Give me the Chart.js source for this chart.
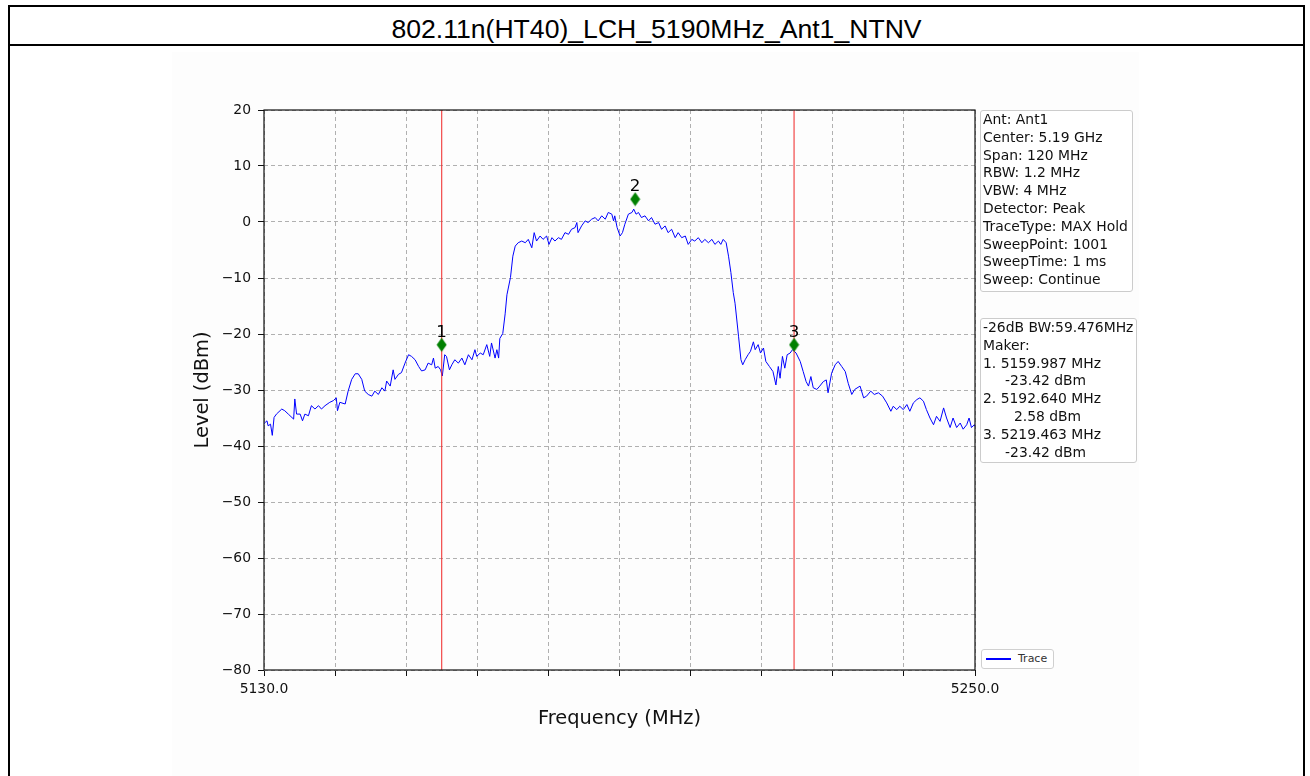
<!DOCTYPE html>
<html>
<head>
<meta charset="utf-8">
<script src="https://cdn.jsdelivr.net/npm/chart.js@4.4.1/dist/chart.umd.min.js"></script>
<style>
  body { margin: 0; background: #fff; font-family: "DejaVu Sans", sans-serif; }
  #frame { position: absolute; left: 8px; top: 5px; width: 1293px; height: 800px; border: 2px solid #000; border-bottom: none; }
  #sep { position: absolute; left: 8px; top: 44px; width: 1297px; height: 2px; background: #000; }
  #title { position: absolute; left: 10px; top: 9px; width: 1293px; height: 35px; line-height: 40px; text-align: center;
           font-family: "Liberation Sans", Arial, sans-serif; font-size: 26.6px; color: #000; }
  #fig { position: absolute; left: 172px; top: 52px; width: 967px; height: 724px; background: #fdfdfd; }
  .box { position: absolute; background: #fff; border: 1px solid #cccccc; border-radius: 3px; color: #111;
         font-size: 13.9px; line-height: 17.8px; padding: 0 0 0 2px; white-space: pre; box-sizing: border-box; }
  #legend { position: absolute; left: 981px; top: 649px; width: 73px; height: 20px; background: #fff;
            border: 1px solid #d0d0d0; border-radius: 3px; box-sizing: border-box; font-size: 11px; color: #333; }
  #legend .swatch { position: absolute; left: 4px; top: 8px; width: 25px; height: 1.5px; background: #0000ff; }
  #legend .lbl { position: absolute; left: 36px; top: 2px; line-height: 14px; }
</style>
</head>
<body>
<div id="frame"></div>
<div id="sep"></div>
<div id="title">802.11n(HT40)_LCH_5190MHz_Ant1_NTNV</div>
<div id="fig"><canvas id="spectrum" width="967" height="724"></canvas></div>
<div class="box" id="setup" style="left:980px; top:110px; width:153px; height:182px;"></div>
<div class="box" id="markers" style="left:980px; top:318px; width:157px; height:145px;"></div>
<div id="legend"><div class="swatch"></div><div class="lbl">Trace</div></div>

<script>
// analyzer settings
const startFreq = 5130.0;
const stopFreq = 5250.0;
const refLevel = 20;
const bottomLevel = -80;
const setupLines = ['Ant: Ant1', 'Center: 5.19 GHz', 'Span: 120 MHz', 'RBW: 1.2 MHz', 'VBW: 4 MHz',
  'Detector: Peak', 'TraceType: MAX Hold', 'SweepPoint: 1001', 'SweepTime: 1 ms', 'Sweep: Continue'];
const bwText = '-26dB BW:59.476MHz';

// markers (MHz, dBm); 1 and 3 are the -26dB edges
const markerNames = ['1', '2', '3'];
const markerFreq = [5159.987, 5192.640, 5219.463];
const markerLevel = [-23.42, 2.58, -23.42];
const markerLift = 1.5; // diamonds sit a little above the reading
const edgeFreq = [5159.987, 5219.463];

// trace (MHz, dBm)
const traceFreq = [
  5130.0, 5130.2, 5130.5, 5130.7, 5131.1, 5131.4, 5131.7, 5132.1, 5133.0, 5133.5,
  5134.1, 5135.0, 5135.2, 5135.5, 5136.1, 5136.5, 5136.9, 5137.5, 5138.0, 5138.6,
  5139.2, 5139.7, 5140.3, 5141.1, 5141.7, 5142.2, 5142.4, 5142.8, 5143.7, 5144.2,
  5144.8, 5145.4, 5145.9, 5146.5, 5147.0, 5147.6, 5148.2, 5148.7, 5149.3, 5149.9,
  5150.4, 5150.7, 5151.3, 5151.8, 5152.1, 5152.7, 5153.2, 5153.8, 5154.4, 5154.9,
  5155.5, 5156.1, 5156.6, 5157.2, 5157.7, 5158.3, 5158.6, 5158.9, 5159.4, 5159.8,
  5160.1, 5160.5, 5160.8, 5161.3, 5161.7, 5162.2, 5162.8, 5163.4, 5163.9, 5164.5,
  5165.1, 5165.6, 5165.9, 5166.5, 5167.0, 5167.6, 5168.1, 5168.4, 5169.0, 5169.3,
  5169.6, 5169.8, 5170.3, 5170.7, 5171.0, 5171.6, 5172.0, 5172.4, 5172.9, 5173.5,
  5174.1, 5174.6, 5175.2, 5175.6, 5176.0, 5176.6, 5177.1, 5177.7, 5178.1, 5178.6,
  5179.1, 5179.7, 5180.2, 5180.8, 5181.4, 5181.9, 5182.5, 5182.8, 5183.0, 5183.6,
  5184.2, 5184.7, 5185.3, 5185.9, 5186.4, 5187.0, 5187.6, 5188.1, 5188.7, 5189.0,
  5189.2, 5189.6, 5190.1, 5190.5, 5190.9, 5191.5, 5192.1, 5192.4, 5192.8, 5193.2,
  5193.7, 5194.3, 5194.9, 5195.4, 5196.0, 5196.6, 5197.1, 5197.7, 5198.2, 5198.8,
  5199.4, 5199.9, 5200.5, 5201.1, 5201.6, 5202.2, 5202.7, 5203.3, 5203.9, 5204.4,
  5205.0, 5205.6, 5206.1, 5206.7, 5207.1, 5207.5, 5208.0, 5208.4, 5208.8, 5209.2,
  5209.5, 5209.8, 5210.1, 5210.5, 5210.8, 5211.2, 5211.7, 5212.1, 5212.6, 5212.9,
  5213.4, 5213.8, 5214.3, 5214.7, 5215.3, 5215.9, 5216.4, 5216.8, 5217.1, 5217.5,
  5217.9, 5218.3, 5218.8, 5219.2, 5219.8, 5220.5, 5221.0, 5221.5, 5221.9, 5222.3,
  5222.7, 5223.3, 5223.8, 5224.4, 5224.9, 5225.2, 5225.8, 5226.4, 5226.9, 5227.5,
  5228.1, 5228.6, 5229.2, 5229.7, 5230.6, 5231.2, 5231.7, 5232.4, 5233.0, 5233.7,
  5234.4, 5235.1, 5235.8, 5236.2, 5236.8, 5237.3, 5237.9, 5238.5, 5239.0, 5239.6,
  5240.2, 5240.7, 5241.3, 5241.8, 5242.4, 5243.0, 5243.5, 5244.1, 5244.7, 5245.2,
  5245.8, 5246.3, 5246.9, 5247.5, 5248.0, 5248.6, 5249.0, 5249.4, 5249.9, 5250.0
];
const traceLevel = [
  -36.0, -35.8, -35.5, -36.4, -36.1, -38.1, -34.9, -34.3, -33.4, -33.7,
  -34.3, -35.2, -31.6, -34.3, -34.3, -35.5, -34.3, -34.6, -32.8, -33.4,
  -32.8, -33.4, -32.8, -32.2, -31.9, -31.4, -33.7, -32.2, -32.5, -30.2,
  -28.1, -27.1, -27.1, -28.1, -30.2, -30.8, -31.1, -30.2, -30.8, -29.6,
  -30.2, -28.4, -29.3, -26.4, -28.1, -27.2, -26.9, -25.2, -23.7, -24.0,
  -24.6, -25.8, -26.6, -26.4, -25.2, -25.5, -24.3, -26.1, -25.8, -26.4,
  -27.5, -23.7, -24.0, -26.4, -25.5, -24.6, -25.2, -24.3, -25.5, -23.7,
  -24.6, -22.8, -24.0, -23.4, -23.7, -21.9, -24.0, -21.6, -24.3, -22.8,
  -24.3, -20.8, -19.9, -16.4, -13.0, -9.9, -6.1, -4.3, -3.7, -3.4,
  -3.7, -3.1, -4.6, -1.9, -3.4, -2.5, -3.1, -2.5, -4.0, -2.8,
  -3.4, -2.8, -3.1, -1.9, -2.2, -1.3, -1.0, -0.1, -1.9, -0.7,
  0.2, -0.1, 0.5, 0.8, 0.2, 1.1, 0.5, 1.7, 1.4, 0.2,
  1.1, -1.0, -2.5, -1.9, -0.4, 1.4, 1.7, 2.3, 1.4, 1.7,
  0.8, 1.1, 0.2, 0.8, -0.4, -0.1, -1.3, -0.7, -1.9, -1.3,
  -2.8, -1.9, -2.8, -2.5, -4.0, -3.1, -3.4, -2.8, -3.7, -3.1,
  -3.7, -3.1, -4.0, -3.4, -4.0, -3.1, -3.7, -6.1, -9.0, -12.6,
  -14.5, -17.5, -20.5, -24.6, -25.5, -24.6, -23.7, -23.1, -21.4, -22.8,
  -21.9, -23.4, -22.5, -24.9, -25.8, -26.7, -29.1, -25.8, -27.9, -24.0,
  -26.1, -23.7, -23.4, -22.8, -23.4, -24.9, -26.7, -28.5, -29.3, -27.6,
  -29.6, -29.9, -29.3, -28.5, -28.2, -30.5, -27.0, -25.5, -24.9, -25.8,
  -26.7, -28.8, -30.8, -29.9, -29.3, -31.4, -31.1, -30.2, -30.8, -30.5,
  -31.1, -32.3, -33.8, -32.9, -33.5, -32.9, -33.5, -32.6, -33.8, -32.3,
  -31.7, -31.4, -32.0, -33.5, -35.0, -36.2, -34.7, -35.6, -33.2, -35.0,
  -36.7, -35.0, -36.7, -35.9, -37.0, -36.2, -35.0, -36.7, -36.2, -36.5
];

// text boxes at the right of the plot
document.getElementById('setup').textContent = setupLines.join('\n');
const markerLines = [bwText, 'Maker:'];
for (let i = 0; i < markerFreq.length; i++) {
  markerLines.push(markerNames[i] + '. ' + markerFreq[i].toFixed(3) + ' MHz');
  markerLines.push(('   ' + markerLevel[i].toFixed(2).padStart(8, ' ')) + ' dBm');
}
document.getElementById('markers').textContent = markerLines.join('\n');

// thin green diamond used as point style
function diamond() {
  const c = document.createElement('canvas');
  c.width = 11; c.height = 15;
  const g = c.getContext('2d');
  g.fillStyle = '#008000';
  g.beginPath();
  g.moveTo(5.5, 0.5); g.lineTo(10.5, 7.5); g.lineTo(5.5, 14.5); g.lineTo(0.5, 7.5);
  g.closePath();
  g.fill();
  return c;
}

const tracePoints = traceFreq.map((f, i) => ({x: f, y: traceLevel[i]}));
const markerPoints = markerFreq.map((f, i) => ({x: f, y: markerLevel[i] + markerLift}));

const datasets = [{
  label: 'markers', data: markerPoints, showLine: false,
  pointStyle: diamond(), pointRadius: 6, order: 0
}];
edgeFreq.forEach(f => {
  datasets.push({
    label: 'edge', data: [{x: f, y: bottomLevel}, {x: f, y: refLevel}],
    borderColor: 'rgba(240,40,40,0.85)', borderWidth: 1.2, pointRadius: 0, order: 1
  });
});
datasets.push({
  label: 'Trace', data: tracePoints, borderColor: '#0000ff', borderWidth: 1,
  pointRadius: 0, tension: 0, order: 2
});

// axes frame and marker numbers
const framePlugin = {
  id: 'frame',
  afterDraw(chart) {
    const {ctx, chartArea: a, scales} = chart;
    ctx.save();
    ctx.strokeStyle = '#111';
    ctx.lineWidth = 1.2;
    ctx.strokeRect(a.left, a.top, a.right - a.left, a.bottom - a.top);
    ctx.fillStyle = '#000';
    ctx.font = '16.7px "DejaVu Sans"';
    ctx.textAlign = 'center';
    ctx.textBaseline = 'alphabetic';
    markerPoints.forEach((p, i) => {
      const px = scales.x.getPixelForValue(p.x);
      const py = scales.y.getPixelForValue(p.y);
      ctx.fillText(markerNames[i], px, py - 8);
    });
    ctx.restore();
  }
};

Chart.defaults.font.family = '"DejaVu Sans"';
Chart.defaults.color = '#111';

new Chart(document.getElementById('spectrum'), {
  type: 'line',
  data: {datasets: datasets},
  options: {
    responsive: false,
    animation: false,
    layout: {padding: {left: 10, right: 164, top: 58, bottom: 46}},
    plugins: {legend: {display: false}, tooltip: {enabled: false}},
    scales: {
      x: {
        type: 'linear', min: startFreq, max: stopFreq,
        afterFit: s => { s.height = 60; },
        ticks: {
          stepSize: 12, autoSkip: false, maxRotation: 0, padding: 5,
          font: {size: 13.9}, color: '#111',
          callback: v => (v === startFreq || v === stopFreq) ? v.toFixed(1) : ''
        },
        grid: {color: '#b0b0b0', lineWidth: 1, tickLength: 6, tickColor: '#111', tickWidth: 1},
        border: {display: false, dash: [4, 3]},
        title: {display: true, text: 'Frequency (MHz)', font: {size: 19.4}, color: '#111', padding: {top: 0, bottom: -0.6}}
      },
      y: {
        min: bottomLevel, max: refLevel,
        afterFit: s => { s.width = 82; },
        ticks: {
          stepSize: 10, padding: 7, font: {size: 13.9}, color: '#111',
          callback: v => v < 0 ? '\u2212' + Math.abs(v) : String(v)
        },
        grid: {color: '#b0b0b0', lineWidth: 1, tickLength: 6, tickColor: '#111', tickWidth: 1},
        border: {display: false, dash: [4, 3]},
        title: {display: true, text: 'Level (dBm)', font: {size: 19.4}, color: '#111', padding: {top: 9.4, bottom: 0}}
      }
    }
  },
  plugins: [framePlugin]
});
</script>
</body>
</html>
